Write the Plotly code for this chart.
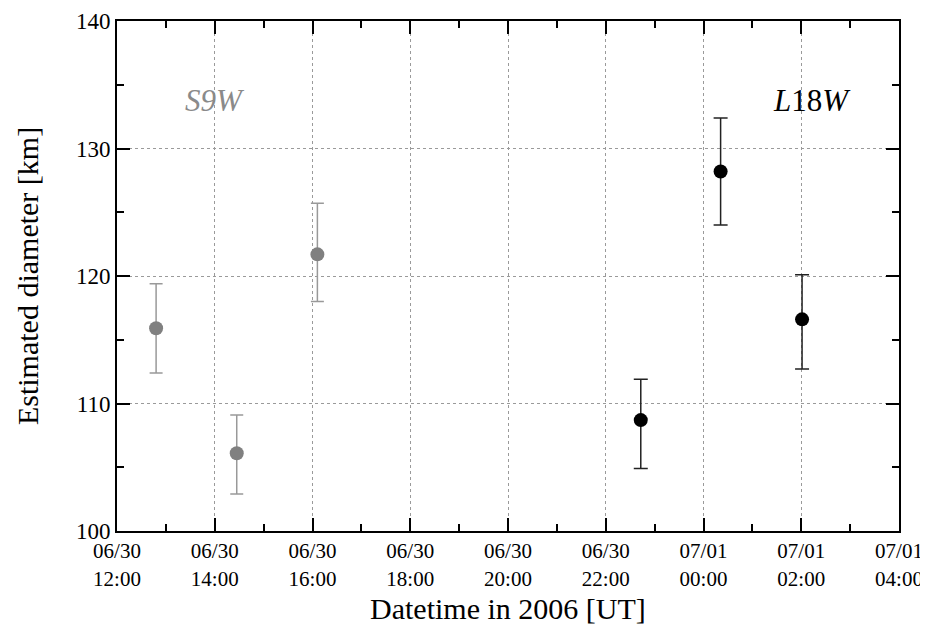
import plotly.graph_objects as go

# S9W (gray) measurements
s9w_time = ["2006-06-30 12:48", "2006-06-30 14:27", "2006-06-30 16:06"]
s9w_diam = [115.9, 106.1, 121.7]
s9w_err_plus = [3.5, 3.0, 4.0]
s9w_err_minus = [3.5, 3.2, 3.7]

# L18W (black) measurements
l18w_time = ["2006-06-30 22:43", "2006-07-01 00:21", "2006-07-01 02:01"]
l18w_diam = [108.7, 128.2, 116.6]
l18w_err_plus = [3.2, 4.2, 3.5]
l18w_err_minus = [3.8, 4.2, 3.9]

X_TITLE = "Datetime in 2006 [UT]"
Y_TITLE = "Estimated diameter [km]"

FONT = "'Liberation Serif', 'Times New Roman', 'DejaVu Serif', serif"

fig = go.Figure()
fig.add_trace(go.Scatter(
    x=s9w_time, y=s9w_diam, mode="markers",
    marker=dict(color="#808080", size=14),
    error_y=dict(type="data", symmetric=False, array=s9w_err_plus,
                 arrayminus=s9w_err_minus, color="#999999", thickness=1.5, width=6.5),
    showlegend=False,
))
fig.add_trace(go.Scatter(
    x=l18w_time, y=l18w_diam, mode="markers",
    marker=dict(color="#000000", size=14),
    error_y=dict(type="data", symmetric=False, array=l18w_err_plus,
                 arrayminus=l18w_err_minus, color="#222222", thickness=1.5, width=7),
    showlegend=False,
))

fig.add_annotation(x="2006-06-30 14:00", y=133.8, text="<i>S9W</i>", showarrow=False,
                   font=dict(family=FONT, size=31, color="#8a8a8a"))
fig.add_annotation(x="2006-07-01 02:13", y=133.8, text="<i>L</i>18<i>W</i>", showarrow=False,
                   font=dict(family=FONT, size=31, color="#000000"))

# axis titles placed explicitly
fig.add_annotation(x=0.5, y=-0.152, xref="paper", yref="paper", text=X_TITLE,
                   showarrow=False, xanchor="center", yanchor="middle",
                   font=dict(family=FONT, size=30, color="black"))
fig.add_annotation(x=-0.115, y=0.5, xref="paper", yref="paper", text=Y_TITLE,
                   showarrow=False, xanchor="center", yanchor="middle", textangle=-90,
                   font=dict(family=FONT, size=30, color="black"))

axis_common = dict(
    showline=True, linecolor="black", linewidth=2, mirror="ticks",
    ticks="inside", ticklen=13, tickwidth=1.5, tickcolor="black",
    showgrid=True, gridcolor="#9a9a9a", griddash="dot", gridwidth=1,
    zeroline=False, automargin=False,
)

fig.update_xaxes(
    type="date",
    range=["2006-06-30 12:00", "2006-07-01 04:00"],
    dtick=7200000, tick0="2006-06-30 12:00",
    tickformat="%m/%d<br>%H:%M",
    tickfont=dict(family=FONT, size=21, color="black"),
    minor=dict(dtick=3600000, ticks="inside", ticklen=7, tickcolor="black", showgrid=False),
    **axis_common,
)
fig.update_yaxes(
    range=[100, 140], dtick=10, tick0=100,
    tickfont=dict(family=FONT, size=23, color="black"),
    minor=dict(dtick=5, ticks="inside", ticklen=7, tickcolor="black", showgrid=False),
    **axis_common,
)

fig.update_layout(
    width=920, height=625,
    margin=dict(l=109, r=29, t=13, b=102),
    plot_bgcolor="white", paper_bgcolor="white",
    font=dict(family=FONT, color="black"),
)

fig.write_html("out.html")
